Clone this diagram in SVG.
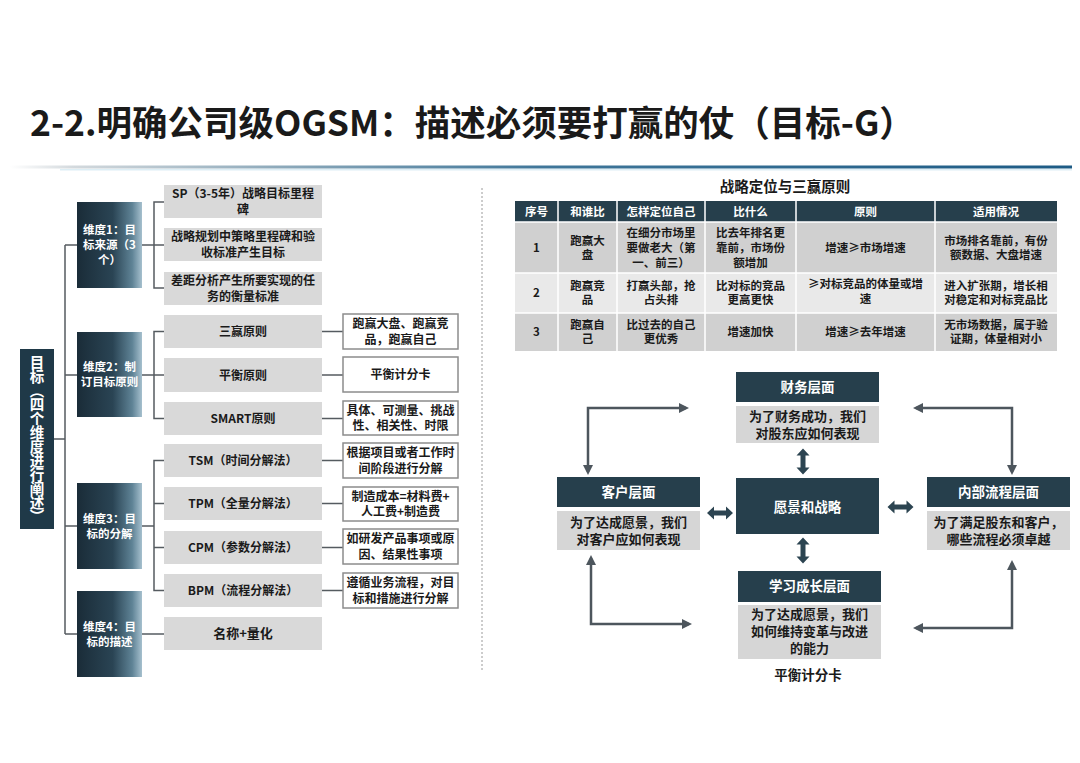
<svg xmlns="http://www.w3.org/2000/svg" xmlns:xlink="http://www.w3.org/1999/xlink" width="1080" height="763" viewBox="0 0 1080 763">
<defs>
<style>
.t{font-family:"Noto Sans CJK SC","Liberation Sans",sans-serif;font-weight:700;fill:#1a1a1a;}
.c{text-anchor:middle;}
.w{fill:#ffffff;}
.s12{font-size:12px;}
.s115{font-size:11.5px;}
.s13{font-size:13px;}
.gbox{fill:#d9d9d9;}
.wbox{fill:#ffffff;stroke:#8c8c8c;stroke-width:1.5;}
.dark{fill:#263f4c;}
.body{fill:#d6d6d6;}
.ln{stroke:#555b60;stroke-width:1.5;fill:none;}
.arr{stroke:#4d565d;stroke-width:2.5;fill:none;marker-start:url(#ah);marker-end:url(#ah);}
.dbl{fill:#2c4451;}
.tcell{stroke:#ffffff;stroke-width:1.5;}
</style>
<linearGradient id="dimg" x1="0" y1="0" x2="1" y2="0">
<stop offset="0" stop-color="#1a2c38"/>
<stop offset="0.55" stop-color="#2a4454"/>
<stop offset="0.85" stop-color="#5f8396"/>
<stop offset="1" stop-color="#a6c0ce"/>
</linearGradient>
<linearGradient id="rule" gradientUnits="userSpaceOnUse" x1="10" y1="0" x2="1072" y2="0">
<stop offset="0" stop-color="#ffffff"/>
<stop offset="0.06" stop-color="#d3d9dd"/>
<stop offset="0.25" stop-color="#8eaabb"/>
<stop offset="0.5" stop-color="#3f7699"/>
<stop offset="1" stop-color="#1d5b85"/>
</linearGradient>
<marker id="ah" viewBox="0 0 10 10" refX="7" refY="5" markerWidth="4" markerHeight="4" orient="auto-start-reverse" markerUnits="strokeWidth">
<path d="M0,0 L10,5 L0,10 Z" fill="#4d565d"/>
</marker>
<path id="dbl" d="M-13,0 L-6,-6.5 L-6,-2.5 L6,-2.5 L6,-6.5 L13,0 L6,6.5 L6,2.5 L-6,2.5 L-6,6.5 Z"/>
</defs>
<rect width="1080" height="763" fill="#ffffff"/>

<g id="title">
<text class="t" x="30" y="136" font-size="35.5" font-weight="900" fill="#111">2-2.明确公司级OGSM：描述必须要打赢的仗（目标-G）</text>
<rect x="10" y="165.5" width="1062" height="3" fill="url(#rule)"/>
<line x1="60" y1="169.8" x2="1072" y2="169.8" stroke="#cfe8f2" stroke-width="1.5" opacity="0.7"/>
<line x1="482" y1="188" x2="482" y2="672" stroke="#9a9a9a" stroke-width="1" stroke-dasharray="2 2"/>
</g>

<g id="tree-connectors">
<path class="ln" d="M54,439 H65 M65,245 V634 M65,245 H77 M65,375 H77 M65,526 H77 M65,634 H77"/>
<path class="ln" d="M142,245 H164 M164,202 H154 V288 H164"/>
<path class="ln" d="M142,375 H164 M164,331.5 H154 V418.5 H164"/>
<path class="ln" d="M142,526 H154 M164,460.5 H154 V590.5 H164 M154,503.5 H164 M154,547.5 H164"/>
<path class="ln" d="M142,634 H164"/>
<path class="ln" d="M322,331.5 H343 M322,375 H343 M322,418.5 H343 M322,460.5 H343 M322,503.5 H343 M322,547.5 H343 M322,590.5 H343"/>
</g>

<g id="root">
<rect x="20" y="349" width="34" height="180" fill="#1f3948"/>
<text class="t w c" x="37" y="439" font-size="14.5" letter-spacing="-0.5" style="writing-mode:vertical-rl;">目标（四个维度进行阐述）</text>
</g>

<g id="dim1">
<rect x="77" y="202" width="65" height="86" fill="url(#dimg)"/>
<text class="t w c s115" x="109.5" y="234.4">维度1：目</text>
<text class="t w c s115" x="109.5" y="249.1">标来源（3</text>
<text class="t w c s115" x="109.5" y="263.8">个）</text>
</g>
<g id="dim2">
<rect x="77" y="332" width="65" height="85" fill="url(#dimg)"/>
<text class="t w c s115" x="109.5" y="371.3">维度2：制</text>
<text class="t w c s115" x="109.5" y="386">订目标原则</text>
</g>
<g id="dim3">
<rect x="77" y="483" width="65" height="86" fill="url(#dimg)"/>
<text class="t w c s115" x="109.5" y="522.8">维度3：目</text>
<text class="t w c s115" x="109.5" y="537.5">标的分解</text>
</g>
<g id="dim4">
<rect x="77" y="591" width="65" height="86" fill="url(#dimg)"/>
<text class="t w c s115" x="109.5" y="630.8">维度4：目</text>
<text class="t w c s115" x="109.5" y="645.5">标的描述</text>
</g>

<g id="d1-c1"><rect class="gbox" x="164" y="185" width="158" height="33"/>
<text class="t c s12" x="243" y="198.2">SP（3-5年）战略目标里程</text><text class="t c s12" x="243" y="213.5">碑</text></g>
<g id="d1-c2"><rect class="gbox" x="164" y="228" width="158" height="33"/>
<text class="t c s12" x="243" y="241.2">战略规划中策略里程碑和验</text><text class="t c s12" x="243" y="256.5">收标准产生目标</text></g>
<g id="d1-c3"><rect class="gbox" x="164" y="272" width="158" height="33"/>
<text class="t c s12" x="243" y="285.2">差距分析产生所要实现的任</text><text class="t c s12" x="243" y="300.5">务的衡量标准</text></g>

<g id="d2-c1"><rect class="gbox" x="164" y="315" width="158" height="33"/>
<text class="t c s12" x="243" y="336">三赢原则</text></g>
<g id="d2-c2"><rect class="gbox" x="164" y="358" width="158" height="34"/>
<text class="t c s12" x="243" y="379.5">平衡原则</text></g>
<g id="d2-c3"><rect class="gbox" x="164" y="402" width="158" height="33"/>
<text class="t c s12" x="243" y="423">SMART原则</text></g>

<g id="d3-c1"><rect class="gbox" x="164" y="444" width="158" height="33"/>
<text class="t c s12" x="243" y="465">TSM（时间分解法）</text></g>
<g id="d3-c2"><rect class="gbox" x="164" y="487" width="158" height="33"/>
<text class="t c s12" x="243" y="508">TPM（全量分解法）</text></g>
<g id="d3-c3"><rect class="gbox" x="164" y="531" width="158" height="33"/>
<text class="t c s12" x="243" y="552">CPM（参数分解法）</text></g>
<g id="d3-c4"><rect class="gbox" x="164" y="574" width="158" height="33"/>
<text class="t c s12" x="243" y="595">BPM（流程分解法）</text></g>

<g id="d4-c1"><rect class="gbox" x="164" y="617" width="158" height="33"/>
<text class="t c s13" x="243" y="638">名称+量化</text></g>

<g id="w1"><rect class="wbox" x="343" y="314" width="115" height="35"/>
<text class="t c s12" x="400.5" y="328.2">跑赢大盘、跑赢竞</text><text class="t c s12" x="400.5" y="343.5">品，跑赢自己</text></g>
<g id="w2"><rect class="wbox" x="343" y="357" width="115" height="35"/>
<text class="t c s12" x="400.5" y="379">平衡计分卡</text></g>
<g id="w3"><rect class="wbox" x="343" y="401" width="115" height="34"/>
<text class="t c s12" x="400.5" y="414.7">具体、可测量、挑战</text><text class="t c s12" x="400.5" y="430">性、相关性、时限</text></g>
<g id="w4"><rect class="wbox" x="343" y="443" width="115" height="35"/>
<text class="t c s12" x="400.5" y="457.2">根据项目或者工作时</text><text class="t c s12" x="400.5" y="472.5">间阶段进行分解</text></g>
<g id="w5"><rect class="wbox" x="343" y="487" width="115" height="34"/>
<text class="t c s12" x="400.5" y="500.7">制造成本=材料费+</text><text class="t c s12" x="400.5" y="516">人工费+制造费</text></g>
<g id="w6"><rect class="wbox" x="343" y="529" width="115" height="35"/>
<text class="t c s12" x="400.5" y="543.2">如研发产品事项或原</text><text class="t c s12" x="400.5" y="558.5">因、结果性事项</text></g>
<g id="w7"><rect class="wbox" x="343" y="573" width="115" height="35"/>
<text class="t c s12" x="400.5" y="587.2">遵循业务流程，对目</text><text class="t c s12" x="400.5" y="602.5">标和措施进行分解</text></g>

<g id="table">
<text class="t c" x="785" y="192" font-size="14.5">战略定位与三赢原则</text>
<rect x="515" y="201" width="542" height="21" fill="#263f4c"/>
<rect x="515" y="222" width="542" height="51" fill="#d0d0d0"/>
<rect x="515" y="273" width="542" height="40" fill="#e9e9e9"/>
<rect x="515" y="313" width="542" height="38" fill="#d0d0d0"/>
<path class="tcell" d="M558,201 V351 M617,201 V351 M705,201 V351 M796,201 V351 M935,201 V351 M515,222 H1057 M515,273 H1057 M515,313 H1057"/>
<text class="t w c s115" x="536.5" y="216">序号</text>
<text class="t w c s115" x="587.5" y="216">和谁比</text>
<text class="t w c s115" x="661" y="216">怎样定位自己</text>
<text class="t w c s115" x="750.5" y="216">比什么</text>
<text class="t w c s115" x="865.5" y="216">原则</text>
<text class="t w c s115" x="996" y="216">适用情况</text>

<text class="t c s115" x="536.5" y="252">1</text>
<text class="t c s115" x="587.5" y="244.7">跑赢大</text><text class="t c s115" x="587.5" y="259.3">盘</text>
<text class="t c s115" x="661" y="237.4">在细分市场里</text><text class="t c s115" x="661" y="252">要做老大（第</text><text class="t c s115" x="661" y="266.6">一、前三）</text>
<text class="t c s115" x="750.5" y="237.4">比去年排名更</text><text class="t c s115" x="750.5" y="252">靠前，市场份</text><text class="t c s115" x="750.5" y="266.6">额增加</text>
<text class="t c s115" x="865.5" y="252">增速≥市场增速</text>
<text class="t c s115" x="996" y="244.7">市场排名靠前，有份</text><text class="t c s115" x="996" y="259.3">额数据、大盘增速</text>

<text class="t c s115" x="536.5" y="297">2</text>
<text class="t c s115" x="587.5" y="289.7">跑赢竞</text><text class="t c s115" x="587.5" y="304.3">品</text>
<text class="t c s115" x="661" y="289.7">打赢头部，抢</text><text class="t c s115" x="661" y="304.3">占头排</text>
<text class="t c s115" x="750.5" y="289.7">比对标的竞品</text><text class="t c s115" x="750.5" y="304.3">更高更快</text>
<text class="t c s115" x="865.5" y="288">≥对标竞品的体量或增</text><text class="t c s115" x="865.5" y="302.6">速</text>
<text class="t c s115" x="996" y="289.7">进入扩张期，增长相</text><text class="t c s115" x="996" y="304.3">对稳定和对标竞品比</text>

<text class="t c s115" x="536.5" y="336">3</text>
<text class="t c s115" x="587.5" y="328.7">跑赢自</text><text class="t c s115" x="587.5" y="343.3">己</text>
<text class="t c s115" x="661" y="328.7">比过去的自己</text><text class="t c s115" x="661" y="343.3">更优秀</text>
<text class="t c s115" x="750.5" y="336">增速加快</text>
<text class="t c s115" x="865.5" y="336">增速≥去年增速</text>
<text class="t c s115" x="996" y="328.7">无市场数据，属于验</text><text class="t c s115" x="996" y="343.3">证期，体量相对小</text>
</g>

<g id="bsc-connectors">
<path class="arr" d="M588,472 V408 H686"/>
<path class="arr" d="M1012,472 V408 H916"/>
<path class="arr" d="M591,558 V624 H689"/>
<path class="arr" d="M1012,563 V628 H916"/>
<use href="#dbl" class="dbl" transform="translate(803,461.5) rotate(90)"/>
<use href="#dbl" class="dbl" transform="translate(803,550.5) rotate(90)"/>
<use href="#dbl" class="dbl" transform="translate(720,513)"/>
<use href="#dbl" class="dbl" transform="translate(900.5,507)"/>
</g>

<g id="finance">
<rect class="dark" x="736" y="372" width="143" height="30"/>
<text class="t w c" x="807.5" y="391.5" font-size="13.5">财务层面</text>
<rect class="body" x="736" y="406" width="143" height="37"/>
<text class="t c s13" x="807.5" y="420.5">为了财务成功，我们</text>
<text class="t c s13" x="807.5" y="437.5">对股东应如何表现</text>
</g>
<g id="customer">
<rect class="dark" x="557" y="477" width="143" height="30"/>
<text class="t w c" x="628.5" y="496.5" font-size="13.5">客户层面</text>
<rect class="body" x="557" y="511" width="143" height="39"/>
<text class="t c s13" x="628.5" y="526.5">为了达成愿景，我们</text>
<text class="t c s13" x="628.5" y="543.5">对客户应如何表现</text>
</g>
<g id="vision">
<rect class="dark" x="736" y="478" width="143" height="56"/>
<text class="t w c" x="807.5" y="512" font-size="13.5">愿景和战略</text>
</g>
<g id="internal">
<rect class="dark" x="927" y="477" width="143" height="30"/>
<text class="t w c" x="998.5" y="496.5" font-size="13.5">内部流程层面</text>
<rect class="body" x="927" y="511" width="143" height="39"/>
<text class="t c s13" x="998.5" y="526.5">为了满足股东和客户，</text>
<text class="t c s13" x="998.5" y="543.5">哪些流程必须卓越</text>
</g>
<g id="learning">
<rect class="dark" x="738" y="571" width="143" height="31"/>
<text class="t w c" x="809.5" y="591" font-size="13.5">学习成长层面</text>
<rect class="body" x="738" y="605" width="143" height="54"/>
<text class="t c s13" x="809.5" y="619">为了达成愿景，我们</text>
<text class="t c s13" x="809.5" y="636">如何维持变革与改进</text>
<text class="t c s13" x="809.5" y="653">的能力</text>
</g>
<text id="caption" class="t c" x="808" y="680" font-size="13.5">平衡计分卡</text>
</svg>
